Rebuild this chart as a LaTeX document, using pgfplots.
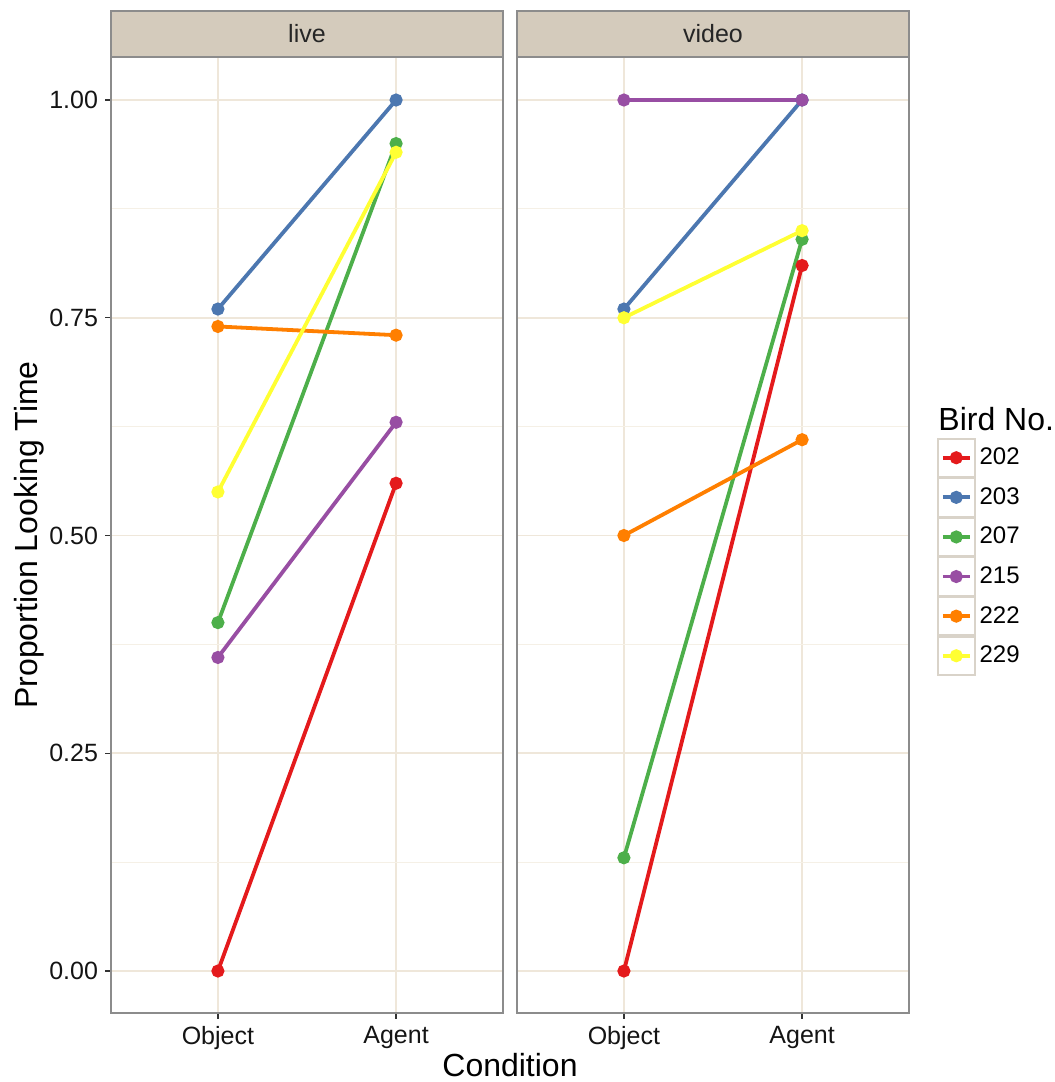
\documentclass[border=0pt]{standalone}
\usepackage{pgfplots}
\pgfplotsset{compat=1.18}
\usepackage{fontspec}
\setmainfont{Liberation Sans}
\definecolor{c202}{HTML}{E41A1C}
\definecolor{c203}{HTML}{4C77B0}
\definecolor{c207}{HTML}{4DAF4A}
\definecolor{c215}{HTML}{984EA3}
\definecolor{c222}{HTML}{FF7F00}
\definecolor{c229}{HTML}{FFFF33}
\definecolor{stripbg}{HTML}{D4CBBC}
\definecolor{gridmaj}{HTML}{EFE7DA}
\definecolor{gridmin}{HTML}{F5F0E6}
\definecolor{bordercol}{HTML}{8C8C8C}
\definecolor{keyb}{HTML}{D9D3C9}
\pgfplotsset{
  panel/.style={
    scale only axis, width=196pt, height=478pt,
    xmin=0.4, xmax=2.6, ymin=-0.0482, ymax=1.0494,
    xtick={1,2}, xticklabels={Object,Agent},
    ytick={0,0.25,0.5,0.75,1}, minor ytick={0.125,0.375,0.625,0.875},
    grid=both,
    major grid style={gridmaj, line width=0.8pt},
    minor grid style={gridmin, line width=0.6pt},
    axis line style={bordercol, line width=0.6pt},
    tick align=outside, major tick length=3pt,
    minor tick style={draw=none},
    major tick style={black!80, line width=0.6pt},
    xtick pos=bottom, ytick pos=left,
    /pgf/number format/assume math mode=true,
    yticklabel={\pgfmathprintnumber[fixed, fixed zerofill, precision=2]{\tick}},
    tick label style={font=\fontsize{12.5}{14}\selectfont, text=black!92},
    every axis plot/.append style={line width=1.9pt, mark=*, mark size=2.3pt, mark options={solid}},
  }
}
\begin{document}
\begin{tikzpicture}
\useasboundingbox (0,0) rectangle (527.5pt,541pt);
% live panel
\begin{axis}[panel, at={(55.5pt,34.5pt)}, anchor=south west]
\addplot[c202] coordinates {(1,0.00) (2,0.56)};
\addplot[c203] coordinates {(1,0.76) (2,1.00)};
\addplot[c207] coordinates {(1,0.40) (2,0.95)};
\addplot[c215] coordinates {(1,0.36) (2,0.63)};
\addplot[c222] coordinates {(1,0.74) (2,0.73)};
\addplot[c229] coordinates {(1,0.55) (2,0.94)};
\end{axis}
% video panel
\begin{axis}[panel, at={(258.5pt,34.5pt)}, anchor=south west,
  yticklabels={}, y tick style={draw=none},
  legend cell align=left,
  legend style={at={(1.0714,0.6015)}, anchor=north west, draw=none, fill=none,
    inner sep=0pt, outer sep=0pt, row sep=0pt, column sep=0pt,
    font=\fontsize{12}{14}\selectfont, nodes={inner sep=2pt}},
  legend image code/.code={
    \draw[draw=keyb, fill=white, line width=0.8pt, solid] (0pt,-9.5pt) rectangle (18.5pt,9.5pt);
    \draw[#1, line width=1.9pt, mark repeat=2, mark phase=2] plot coordinates {(2.5pt,0pt) (9.25pt,0pt) (16pt,0pt)};
  },
  legend entries={202,203,207,215,222,229}]
\addplot[c202] coordinates {(1,0.00) (2,0.81)};
\addplot[c203] coordinates {(1,0.76) (2,1.00)};
\addplot[c207] coordinates {(1,0.13) (2,0.84)};
\addplot[c215] coordinates {(1,1.00) (2,1.00)};
\addplot[c222] coordinates {(1,0.50) (2,0.61)};
\addplot[c229] coordinates {(1,0.75) (2,0.85)};
\end{axis}
% strips
\draw[fill=stripbg, draw=bordercol, line width=0.6pt] (55.5pt,512.5pt) rectangle (251.5pt,535.5pt);
\draw[fill=stripbg, draw=bordercol, line width=0.6pt] (258.5pt,512.5pt) rectangle (454.5pt,535.5pt);
\node[font=\fontsize{12.5}{14}\selectfont, text=black!85] at (153.5pt,524pt) {live};
\node[font=\fontsize{12.5}{14}\selectfont, text=black!85] at (356.5pt,524pt) {video};
% axis titles
\node[font=\fontsize{16}{18}\selectfont] at (255pt,8.5pt) {Condition};
\node[font=\fontsize{16}{18}\selectfont, rotate=90] at (14.5pt,273.5pt) {Proportion Looking Time};
\node[font=\fontsize{16}{18}\selectfont, anchor=base west, inner sep=0pt] at (469pt,325.5pt) {Bird No.};
\end{tikzpicture}
\end{document}
